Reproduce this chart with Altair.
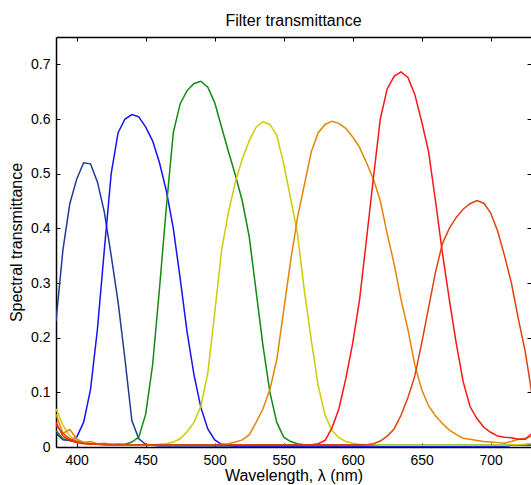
import altair as alt
import pandas as pd

wavelength = [385, 390, 395, 400, 405, 410, 415, 420, 425, 430,
              435, 440, 445, 450, 455, 460, 465, 470, 475, 480,
              485, 490, 495, 500, 505, 510, 515, 520, 525, 530,
              535, 540, 545, 550, 555, 560, 565, 570, 575, 580,
              585, 590, 595, 600, 605, 610, 615, 620, 625, 630,
              635, 640, 645, 650, 655, 660, 665, 670, 675, 680,
              685, 690, 695, 700, 705, 710, 715, 720, 725, 730]

navy = [0.23, 0.36, 0.445, 0.49, 0.52, 0.518, 0.485, 0.43, 0.35, 0.265,
        0.16, 0.048, 0.015, 0.005, 0.003, 0.002, 0.002, 0.002, 0.002, 0.002,
        0.002, 0.002, 0.002, 0.002, 0.002, 0.002, 0.002, 0.002, 0.002, 0.002,
        0.002, 0.002, 0.002, 0.002, 0.002, 0.002, 0.002, 0.002, 0.002, 0.002,
        0.002, 0.002, 0.002, 0.002, 0.002, 0.002, 0.002, 0.002, 0.002, 0.002,
        0.002, 0.002, 0.002, 0.002, 0.002, 0.002, 0.002, 0.002, 0.002, 0.002,
        0.002, 0.002, 0.002, 0.002, 0.002, 0.002, 0.003, 0.003, 0.004, 0.004]

blue = [0.025, 0.013, 0.012, 0.018, 0.045, 0.105, 0.215, 0.36, 0.5, 0.575,
        0.6, 0.608, 0.604, 0.585, 0.56, 0.52, 0.468, 0.4, 0.308, 0.21,
        0.132, 0.072, 0.033, 0.013, 0.005, 0.003, 0.002, 0.002, 0.002, 0.002,
        0.002, 0.002, 0.002, 0.002, 0.002, 0.002, 0.002, 0.002, 0.002, 0.002,
        0.002, 0.002, 0.002, 0.002, 0.002, 0.002, 0.002, 0.002, 0.002, 0.002,
        0.002, 0.002, 0.002, 0.002, 0.002, 0.002, 0.002, 0.002, 0.002, 0.002,
        0.002, 0.002, 0.002, 0.002, 0.002, 0.002, 0.003, 0.003, 0.004, 0.005]

green = [0.03, 0.015, 0.012, 0.01, 0.008, 0.006, 0.005, 0.004, 0.004, 0.004,
         0.005, 0.009, 0.018, 0.06, 0.15, 0.29, 0.44, 0.575, 0.628, 0.652,
         0.665, 0.669, 0.658, 0.63, 0.585, 0.54, 0.497, 0.45, 0.385, 0.285,
         0.185, 0.1, 0.045, 0.018, 0.01, 0.006, 0.004, 0.003, 0.003, 0.003,
         0.003, 0.003, 0.003, 0.003, 0.003, 0.003, 0.003, 0.003, 0.003, 0.003,
         0.003, 0.003, 0.003, 0.003, 0.003, 0.003, 0.003, 0.003, 0.003, 0.003,
         0.003, 0.003, 0.003, 0.003, 0.003, 0.003, 0.003, 0.003, 0.003, 0.003]

yellow = [0.07, 0.04, 0.02, 0.012, 0.009, 0.007, 0.006, 0.005, 0.005, 0.005,
          0.004, 0.004, 0.004, 0.004, 0.004, 0.005, 0.006, 0.009, 0.015, 0.028,
          0.045, 0.075, 0.135, 0.245, 0.36, 0.43, 0.485, 0.527, 0.56, 0.585,
          0.595, 0.59, 0.57, 0.518, 0.455, 0.39, 0.285, 0.195, 0.112, 0.058,
          0.03, 0.017, 0.01, 0.007, 0.005, 0.004, 0.004, 0.003, 0.003, 0.003,
          0.003, 0.003, 0.003, 0.003, 0.003, 0.003, 0.003, 0.003, 0.003, 0.003,
          0.003, 0.003, 0.003, 0.003, 0.003, 0.003, 0.004, 0.004, 0.005, 0.006]

orange = [0.06, 0.025, 0.032, 0.015, 0.008, 0.01, 0.006, 0.007, 0.005, 0.006,
          0.005, 0.004, 0.004, 0.004, 0.004, 0.004, 0.004, 0.004, 0.004, 0.004,
          0.004, 0.004, 0.004, 0.004, 0.005, 0.006, 0.009, 0.013, 0.022, 0.045,
          0.07, 0.105, 0.16, 0.25, 0.34, 0.42, 0.48, 0.54, 0.575, 0.59,
          0.596, 0.592, 0.583, 0.567, 0.548, 0.52, 0.49, 0.45, 0.39, 0.335,
          0.27, 0.215, 0.15, 0.105, 0.075, 0.057, 0.043, 0.031, 0.023, 0.016,
          0.014, 0.012, 0.01, 0.009, 0.008, 0.007, 0.01, 0.014, 0.016, 0.02]

red = [0.045, 0.02, 0.012, 0.008, 0.006, 0.005, 0.005, 0.004, 0.004, 0.004,
       0.004, 0.004, 0.004, 0.004, 0.004, 0.004, 0.004, 0.004, 0.004, 0.004,
       0.004, 0.004, 0.004, 0.004, 0.004, 0.004, 0.004, 0.004, 0.004, 0.004,
       0.004, 0.004, 0.004, 0.004, 0.004, 0.004, 0.004, 0.004, 0.006, 0.012,
       0.035, 0.07, 0.125, 0.19, 0.27, 0.38, 0.492, 0.6, 0.655, 0.678,
       0.686, 0.676, 0.645, 0.595, 0.54, 0.45, 0.355, 0.27, 0.19, 0.12,
       0.074, 0.052, 0.036, 0.027, 0.02, 0.018, 0.017, 0.014, 0.014, 0.025]

red_orange = [0.04, 0.025, 0.015, 0.01, 0.007, 0.006, 0.005, 0.005, 0.004, 0.004,
              0.004, 0.004, 0.004, 0.004, 0.004, 0.004, 0.004, 0.004, 0.004, 0.004,
              0.004, 0.004, 0.004, 0.004, 0.004, 0.004, 0.004, 0.004, 0.004, 0.004,
              0.004, 0.004, 0.004, 0.004, 0.004, 0.004, 0.004, 0.004, 0.004, 0.004,
              0.004, 0.004, 0.004, 0.004, 0.004, 0.004, 0.006, 0.011, 0.02, 0.033,
              0.058, 0.09, 0.13, 0.19, 0.255, 0.32, 0.372, 0.4, 0.42, 0.435,
              0.445, 0.451, 0.446, 0.428, 0.395, 0.35, 0.3, 0.235, 0.175, 0.095]

series_names = ["F1", "F2", "F3", "F4", "F5", "F6", "F7"]
series_values = [navy, blue, green, yellow, orange, red, red_orange]
series_colors = ["#1d3c96", "#1414f0", "#128a12", "#cccc00", "#e4840a", "#ff1414", "#e0420c"]

tick_x = [400, 450, 500, 550, 600, 650, 700]
tick_y = [0, 0.1, 0.2, 0.3, 0.4, 0.5, 0.6, 0.7]

rows = []
for name, vals in zip(series_names, series_values):
    for w, v in zip(wavelength, vals):
        rows.append({"series": name, "wavelength": w, "T": v})
df = pd.DataFrame(rows)

FONT = "Liberation Sans"
xscale = alt.Scale(domain=[385, 729.2], nice=False, zero=False)
yscale = alt.Scale(domain=[0, 0.75], nice=False, zero=False)

base = alt.Chart(df)


def tick_axis(orient, values):
    return alt.Axis(orient=orient, values=values, offset=-4, tickSize=4, tickWidth=1,
                    tickColor="black", labels=False, domain=False, grid=False, title=None)


lines = base.mark_line(strokeWidth=1.5, clip=True).encode(
    x=alt.X("wavelength:Q", scale=xscale,
            axis=alt.Axis(orient="bottom", values=tick_x, ticks=False, tickSize=0, grid=False,
                          domain=True, domainColor="black", domainWidth=1.5,
                          labelFont=FONT, labelFontSize=14, labelColor="black", labelPadding=6,
                          format="d", title="Wavelength, λ (nm)", titleFont=FONT,
                          titleFontSize=16, titleFontWeight="normal", titleColor="black",
                          titlePadding=0)),
    y=alt.Y("T:Q", scale=yscale,
            axis=alt.Axis(orient="left", values=tick_y, ticks=False, tickSize=0, grid=False,
                          domain=True, domainColor="black", domainWidth=1.5,
                          labelFont=FONT, labelFontSize=14, labelColor="black", labelPadding=6,
                          format=".1~f", title="Spectral transmittance", titleFont=FONT,
                          titleFontSize=16, titleFontWeight="normal", titleColor="black",
                          titlePadding=6)),
    color=alt.Color("series:N", scale=alt.Scale(domain=series_names, range=series_colors),
                    legend=None),
)

ticks_bl = base.mark_line(opacity=0).encode(
    x=alt.X("wavelength:Q", scale=xscale, axis=tick_axis("bottom", tick_x)),
    y=alt.Y("T:Q", scale=yscale, axis=tick_axis("left", tick_y)),
    detail="series:N",
)

ticks_tr = base.mark_line(opacity=0).encode(
    x=alt.X("wavelength:Q", scale=xscale, axis=tick_axis("top", tick_x)),
    y=alt.Y("T:Q", scale=yscale, axis=tick_axis("right", tick_y)),
    detail="series:N",
)

top_frame = base.mark_line(opacity=0).encode(
    x=alt.X("wavelength:Q", scale=xscale,
            axis=alt.Axis(orient="top", ticks=False, labels=False, grid=False, domain=True,
                          domainColor="black", domainWidth=1.5, title=None)),
    y=alt.Y("T:Q", scale=yscale, axis=None),
    detail="series:N",
)

chart = alt.layer(lines, ticks_bl, ticks_tr, top_frame).resolve_axis(
    x="independent", y="independent"
).properties(
    width=475,
    height=410,
    title=alt.TitleParams("Filter transmittance", font=FONT, fontSize=16,
                          fontWeight="normal", color="black", offset=8),
    autosize=alt.AutoSizeParams(type="none"),
    padding={"left": 56, "top": 37, "right": 0, "bottom": 38},
    background="white",
).configure_view(stroke=None)

chart.save("out.html", embed_options={"renderer": "svg", "actions": False})
